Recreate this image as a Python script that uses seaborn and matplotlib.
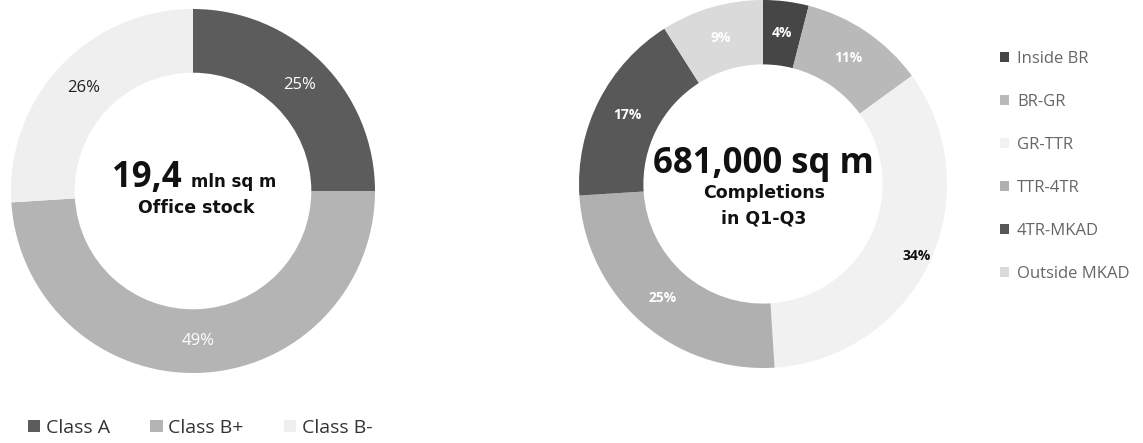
import matplotlib
matplotlib.use("Agg")
import matplotlib.pyplot as plt
from matplotlib.patches import Patch
import seaborn as sns

# Office stock by class (%)
stock_classes = ["Class A", "Class B+", "Class B-"]
stock_share = [25, 49, 26]
stock_colors = ["#5c5c5c", "#b4b4b4", "#efefef"]
stock_label_colors = ["white", "white", "#222222"]

# Completions by location (%)
zones = ["Inside BR", "BR-GR", "GR-TTR", "TTR-4TR", "4TR-MKAD", "Outside MKAD"]
zone_share = [4, 11, 34, 25, 17, 9]
zone_colors = ["#464646", "#b9b9b9", "#f1f1f1", "#b0b0b0", "#585858", "#dadada"]
zone_label_colors = ["white", "white", "#111111", "white", "white", "white"]

sns.set_theme(style="white")
plt.rcParams["font.family"] = ["Open Sans", "DejaVu Sans"]

W, H = 1143, 443
fig = plt.figure(figsize=(W / 100, H / 100), dpi=100)
fig.patch.set_facecolor("white")

WIDE_BOLD = dict(family=["DejaVu Sans"], fontweight="bold", color="#111111")


def donut_axes(cx, cy, r):
    ax = fig.add_axes([(cx - r) / W, (H - cy - r) / H, 2 * r / W, 2 * r / H])
    ax.set_xlim(-1, 1)
    ax.set_ylim(-1, 1)
    ax.axis("off")
    return ax


def draw_donut(ax, values, colors, label_colors, fontsize, weight):
    wedges, _, pcts = ax.pie(
        values, colors=colors, startangle=90, counterclock=False,
        radius=1, wedgeprops=dict(width=0.35, linewidth=0),
        autopct=lambda p: f"{p:.0f}%", pctdistance=0.825,
        textprops=dict(fontsize=fontsize, fontweight=weight),
    )
    for t, c in zip(pcts, label_colors):
        t.set_color(c)
    ax.set_xlim(-1, 1)
    ax.set_ylim(-1, 1)
    return pcts


# Left donut: office stock
ax1 = donut_axes(193, 191, 182)
draw_donut(ax1, stock_share, stock_colors, stock_label_colors, 12, "normal")
ax1.text(-0.065, 0.02, "19,4", ha="right", va="baseline", fontsize=25,
         fontweight="bold", color="#111111")
ax1.text(-0.01, 0.02, "mln sq m", ha="left", va="baseline", fontsize=12,
         **WIDE_BOLD)
ax1.text(0.015, -0.095, "Office stock", ha="center", va="center",
         fontsize=12.5, **WIDE_BOLD)

# Right donut: completions
ax2 = donut_axes(763, 184, 184)
pcts = draw_donut(ax2, zone_share, zone_colors, zone_label_colors, 10, "bold")
x, y = pcts[2].get_position()
pcts[2].set_position((x * 0.92 / 0.825, y * 0.92 / 0.825))
ax2.text(0.005, 0.06, "681,000 sq m", ha="center", va="baseline",
         fontsize=25, fontweight="bold", color="#111111")
ax2.text(0.005, -0.05, "Completions", ha="center", va="center",
         fontsize=12.5, **WIDE_BOLD)
ax2.text(0.005, -0.185, "in Q1-Q3", ha="center", va="center",
         fontsize=12.5, **WIDE_BOLD)

# Legends
stock_handles = [Patch(facecolor=c, edgecolor="none", label=l)
                 for l, c in zip(stock_classes, stock_colors)]
fig.legend(handles=stock_handles, loc="center left",
           bbox_to_anchor=(28 / W, 15 / H), ncol=3, frameon=False,
           fontsize=14, handlelength=0.62, handleheight=0.62,
           handletextpad=0.28, columnspacing=2.1, labelcolor="#333333",
           borderaxespad=0, borderpad=0)

zone_handles = [Patch(facecolor=c, edgecolor="none", label=l)
                for l, c in zip(zones, zone_colors)]
fig.legend(handles=zone_handles, loc="upper left",
           bbox_to_anchor=(1000 / W, 1 - 51 / H), ncol=1, frameon=False,
           fontsize=12, handlelength=0.52, handleheight=0.58,
           handletextpad=0.5, labelspacing=1.62, labelcolor="#666666",
           borderaxespad=0, borderpad=0)

fig.savefig("out.png", dpi=100, facecolor="white")
